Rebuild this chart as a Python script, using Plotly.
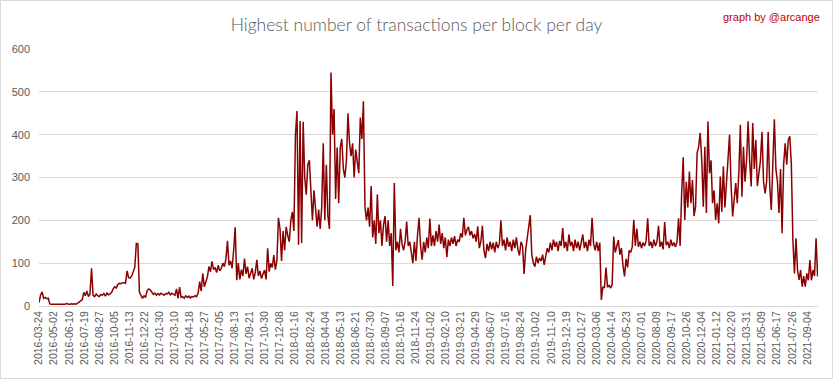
import pandas as pd
import plotly.graph_objects as go

START_DATE = "2016-03-24"
STEP = "4D"  # one reading every 4 days

# Values (transactions), one every 4 days from START_DATE
values_2016 = [8, 25, 33, 18, 20, 17, 18,
               5, 4, 4, 5, 4, 4, 5, 4, 4, 5, 4, 6, 4, 4, 5, 4, 5, 4, 6,
               8, 12, 15,
               32, 24, 35, 22, 28, 88,
               25, 22, 28, 24, 22, 27, 25, 29, 23, 30, 26, 28, 32,
               40, 45, 42,
               50, 53, 52, 54, 55, 53,
               82, 66, 65, 70, 80, 90, 146, 145]
values_2017 = [32, 26, 18, 24, 20, 36, 40, 38, 33, 27, 30, 25, 29, 26, 30, 27, 25, 29, 28, 32,
               26, 30, 28, 25, 40, 18, 44, 20,
               22, 18, 24, 20, 23, 19, 22, 21, 24, 22,
               30, 57, 35, 76, 45,
               55, 68, 92,
               80, 104, 85, 90, 78, 95, 82, 88,
               100, 92, 110, 152, 95, 105, 88, 130, 184, 60, 100, 62,
               85, 70, 111, 75, 92, 65, 80, 88, 62, 78, 108, 70,
               82, 64, 75, 84, 62, 135,
               80, 100, 90, 119, 85, 107,
               206,
               180, 105, 175, 130, 185, 165, 150, 200, 220]
values_2018 = [175, 400, 455, 143, 432, 147, 430, 300, 260, 330, 340, 250, 200, 270, 230, 185,
               225, 180, 230, 380, 200, 330, 210, 180, 545, 400, 460, 250, 370, 240, 370, 390,
               320, 300, 340, 450, 380, 350, 380, 300, 365, 330, 310, 440, 390, 478, 232, 200,
               230, 185, 280, 160, 200, 145, 260, 170, 200, 140, 190, 210, 150, 200, 140, 170,
               47, 287, 130, 150, 125, 180, 145, 130, 150, 197, 140, 150]
values_2019 = [130, 100, 150, 105, 165, 206, 140, 108, 150, 125, 160, 135, 204, 140, 165, 140,
               175, 150, 190, 145, 170, 135, 160, 114, 155, 140, 160, 145, 163, 140, 155, 150,
               170, 160, 206, 165, 178, 185, 165, 175, 158, 168, 150, 186, 135, 150, 187, 130,
               112, 145, 128, 150, 132, 148, 125, 150, 135, 145, 200, 140, 155, 130, 160, 138,
               150, 128, 155, 135, 160, 132, 118, 150, 140, 75, 130, 154, 180, 212, 120, 100,
               92, 115, 100, 112, 105, 120, 96, 115, 135, 125, 148, 130, 155, 138, 150, 128,
               152, 140, 182, 135, 150, 128, 167, 140, 150, 128, 155, 135, 150, 130, 148, 167,
               135, 150, 128, 155, 140, 206, 145, 130, 150, 128, 148]
values_2020 = [14, 45, 42, 90, 44, 48, 42, 50,
               162, 125, 138, 154, 120, 135, 95, 69, 110, 90, 130, 125, 138,
               201, 140, 181, 138, 150, 135, 148, 140, 152, 205, 140, 150, 135, 155, 140, 150,
               187, 138, 150, 132, 196, 142, 150, 135, 155, 140, 148, 138, 150, 205, 140]
values_2021 = [263, 347, 201, 290, 230, 314, 240, 294, 210, 232, 357, 372, 404, 341, 232, 372,
               217, 431, 310, 340, 240, 270, 201, 240, 193, 302, 220, 326, 230, 279, 349, 400,
               280, 209, 248, 287, 240, 310, 423, 255, 372, 290, 340, 431, 340, 279, 427, 320,
               388, 280, 310, 340, 407, 290, 263, 290, 407, 280, 224, 320, 436, 320, 290, 217,
               320, 170, 330, 380, 330, 388, 396, 330,
               154, 76, 158, 84, 61, 84, 45, 70, 45, 76, 60, 107, 60, 84, 70, 158, 69]

tick_labels = ["2016-03-24", "2016-05-02", "2016-06-10", "2016-07-19", "2016-08-27", "2016-10-05",
               "2016-11-13", "2016-12-22", "2017-01-30", "2017-03-10", "2017-04-18", "2017-05-27",
               "2017-07-05", "2017-08-13", "2017-09-21", "2017-10-30", "2017-12-08", "2018-01-16",
               "2018-02-24", "2018-04-04", "2018-05-13", "2018-06-21", "2018-07-30", "2018-09-07",
               "2018-10-16", "2018-11-24", "2019-01-02", "2019-02-10", "2019-03-21", "2019-04-29",
               "2019-06-07", "2019-07-16", "2019-08-24", "2019-10-02", "2019-11-10", "2019-12-19",
               "2020-01-27", "2020-03-06", "2020-04-14", "2020-05-23", "2020-07-01", "2020-08-09",
               "2020-09-17", "2020-10-26", "2020-12-04", "2021-01-12", "2021-02-20", "2021-03-31",
               "2021-05-09", "2021-06-17", "2021-07-26", "2021-09-04"]

values = values_2016 + values_2017 + values_2018 + values_2019 + values_2020 + values_2021
dates = pd.date_range(START_DATE, periods=len(values), freq=STEP)

W, H = 833, 379
L, R, T, B = 39, 15, 49, 73
pw, ph = W - L - R, H - T - B

fig = go.Figure()
fig.add_trace(go.Scatter(x=dates, y=values, mode="lines",
                         line=dict(color="#8b0000", width=1.5),
                         hoverinfo="x+y", showlegend=False))

fig.update_layout(
    width=W, height=H,
    margin=dict(l=L, r=R, t=T, b=B, autoexpand=False),
    paper_bgcolor="white", plot_bgcolor="white",
    title=dict(text="Highest number of transactions per block per day",
               x=0.5, xanchor="center", xref="container", y=1 - 25 / H, yanchor="middle",
               font=dict(family="Lato", size=17.5, color="#595959", weight=300)),
    font=dict(family="Liberation Sans", color="#595959", size=11),
    annotations=[dict(text="graph by @arcange", xref="paper", yref="paper",
                      x=1 + (R - 11) / pw, y=1 + (49 - 17) / ph, xanchor="right", yanchor="middle",
                      showarrow=False, font=dict(family="Liberation Sans", size=11, color="#c00000"))],
    shapes=[dict(type="rect", xref="paper", yref="paper",
                 x0=-(L - 0.5) / pw, x1=1 + (R - 0.5) / pw,
                 y0=-(B - 0.5) / ph, y1=1 + (T - 0.5) / ph,
                 line=dict(color="#d9d9d9", width=1), fillcolor="rgba(0,0,0,0)", layer="below")],
)
fig.update_xaxes(
    type="date", range=[START_DATE, "2021-10-01"], automargin=False,
    tickmode="array", tickvals=tick_labels, ticktext=tick_labels,
    tickangle=-90, showgrid=False, showline=True, linecolor="#d9d9d9", linewidth=1,
    ticks="", tickfont=dict(size=10.5, color="#595959"), zeroline=False,
)
fig.update_yaxes(
    range=[0, 600], dtick=100, tick0=0, showgrid=True, gridcolor="#d9d9d9", gridwidth=1,
    zeroline=False, showline=False, ticks="", ticklabelstandoff=8, automargin=False,
    tickfont=dict(size=11, color="#595959"),
)

fig.write_html("out.html", config={"displayModeBar": False},
               post_script="document.body.style.margin='0';document.body.style.padding='0';")
